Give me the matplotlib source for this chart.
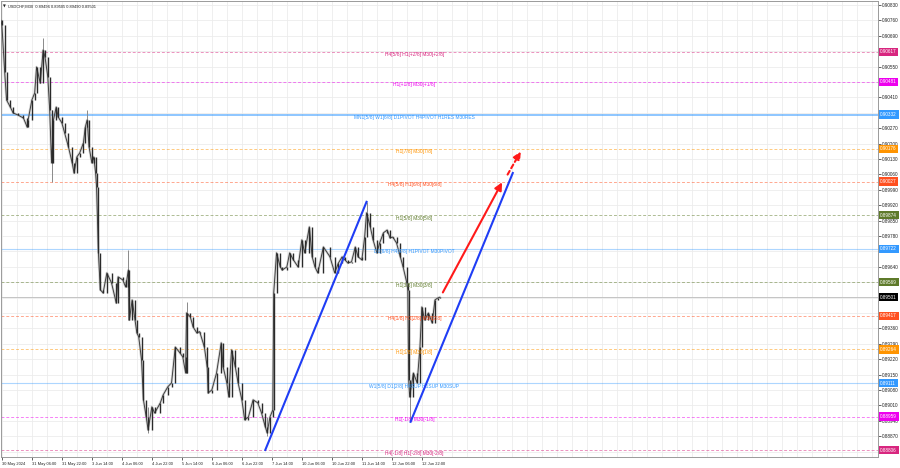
import numpy as np
import matplotlib
matplotlib.use("Agg")
import matplotlib.pyplot as plt
import matplotlib.transforms as mtransforms

# M30 bar index (0 = first bar on screen) and close price
bars = [1, 2, 5, 7, 11, 14, 19, 25, 29, 30, 34, 37, 39, 43, 46, 48, 51, 53, 55, 57,
        60, 62, 66, 69, 73, 77, 79, 82, 85, 89, 91, 93, 95, 98, 100, 102, 103, 105, 107, 110,
        114, 119, 124, 126, 131, 134, 137, 138, 141, 144, 146, 148, 151, 153, 156, 158, 162, 165, 171, 174,
        179, 183, 187, 192, 195, 198, 199, 203, 206, 210, 213, 218, 221, 222, 226, 231, 236, 238, 242, 244,
        247, 251, 254, 258, 261, 265, 270, 275, 279, 283, 285, 288, 291, 292, 295, 299, 301, 306, 309, 313,
        318, 322, 325, 330, 333, 336, 339, 345, 352, 357, 361, 365, 368, 371, 375, 379, 382, 386, 389, 391,
        395, 398, 402, 405, 409, 413, 416, 419, 423, 427, 430, 434, 435, 436, 437, 441, 445, 448, 450, 453,
        457, 461, 464, 467, 469]
closes = [0.90760, 0.90739, 0.90525, 0.90398, 0.90366, 0.90339, 0.90330, 0.90316, 0.90275, 0.90307,
          0.90398, 0.90430, 0.90548, 0.90475, 0.90625, 0.90594, 0.90503, 0.90353, 0.90112, 0.90307,
          0.90366, 0.90321, 0.90294, 0.90248, 0.90185, 0.90112, 0.90066, 0.90139, 0.90157, 0.90203,
          0.90275, 0.90307, 0.90185, 0.90112, 0.90139, 0.90066, 0.90003, 0.89703, 0.89535, 0.89521,
          0.89612, 0.89566, 0.89475, 0.89594, 0.89580, 0.89548, 0.89625, 0.89398, 0.89489, 0.89398,
          0.89339, 0.89321, 0.89216, 0.89035, 0.88957, 0.88898, 0.89003, 0.88975, 0.89021, 0.89057,
          0.89094, 0.89112, 0.89275, 0.89248, 0.89230, 0.89157, 0.89430, 0.89412, 0.89366, 0.89339,
          0.89345, 0.89275, 0.89185, 0.89066, 0.89080, 0.89157, 0.89294, 0.89185, 0.89112, 0.89048,
          0.89262, 0.89185, 0.89112, 0.89035, 0.88944, 0.88957, 0.89035, 0.89021, 0.88975, 0.88912,
          0.88885, 0.88957, 0.88989, 0.89521, 0.89703, 0.89639, 0.89625, 0.89639, 0.89703, 0.89671,
          0.89639, 0.89762, 0.89703, 0.89821, 0.89685, 0.89639, 0.89612, 0.89730, 0.89685, 0.89612,
          0.89657, 0.89685, 0.89671, 0.89657, 0.89662, 0.89730, 0.89685, 0.89671, 0.89775, 0.89885,
          0.89821, 0.89762, 0.89703, 0.89748, 0.89794, 0.89807, 0.89771, 0.89775, 0.89748, 0.89685,
          0.89639, 0.89566, 0.89535, 0.89125, 0.89048, 0.89157, 0.89112, 0.89275, 0.89457, 0.89398,
          0.89430, 0.89385, 0.89489, 0.89498, 0.89501]

# long shadows that stick out of the price path
wick_bars = [46, 55, 93, 137, 158, 199, 285, 391, 437]
wick_lows = [0.90594, 0.90025, 0.90275, 0.89398, 0.88885, 0.89157, 0.88870, 0.89821, 0.88944]
wick_highs = [0.90680, 0.90353, 0.90353, 0.89716, 0.89003, 0.89480, 0.88957, 0.89935, 0.89125]

# murrey math levels
level_prices = [0.90617, 0.90481, 0.90332, 0.90176, 0.90027, 0.89874, 0.89722,
                0.89569, 0.89417, 0.89264, 0.89111, 0.88959, 0.88806]
level_names = ["H4[5/8] H1[+2/8] M30[+2/8]",
               "H1[+1/8] M30[+1/8]",
               "MN1[5/8] W1[6/8] D1PIVOT H4PIVOT H1RES M30RES",
               "H1[7/8] M30[7/8]",
               "H4[5/8] H1[6/8] M30[6/8]",
               "H1[5/8] M30[5/8]",
               "D1[6/8] H4[4/8] H1PIVOT M30PIVOT",
               "H1[3/8] M30[3/8]",
               "H4[1/8] H1[2/8] M30[2/8]",
               "H1[1/8] M30[1/8]",
               "W1[5/8] D1[2/8] H4SUP H1SUP M30SUP",
               "H1[-1/8] M30[-1/8]",
               "H4[-1/8] H1[-2/8] M30[-2/8]"]
level_colors = ["#d8267f", "#ee00ee", "#3399ff", "#ff9400", "#ff5020", "#5e7a2a", "#3399ff",
                "#5e7a2a", "#ff5020", "#ff9400", "#3399ff", "#ee00ee", "#d8267f"]
level_solid = [False, False, True, False, False, False, True,
               False, False, False, True, False, False]
current_price = 0.89501

# drawn objects: trend lines and projection arrows (bar, price)
trend_a = ([283, 391], [0.88807, 0.89935])
trend_b = ([438, 547], [0.88935, 0.90066])
arrow_solid = ([471, 537], [0.89512, 0.90035])
arrow_dash = ([540, 557], [0.90048, 0.90175])

time_labels = ["30 May 2024", "31 May 06:00", "31 May 22:00", "3 Jun 14:00", "4 Jun 06:00",
               "4 Jun 22:00", "5 Jun 14:00", "6 Jun 06:00", "6 Jun 22:00", "7 Jun 14:00",
               "10 Jun 06:00", "10 Jun 22:00", "11 Jun 14:00", "12 Jun 06:00", "12 Jun 22:00"]
time_ticks = [2 + 32 * k for k in range(len(time_labels))]
price_ticks = np.round(np.arange(0.88800, 0.90831, 0.0007), 5)

plt.rcParams['font.family'] = ['Liberation Sans', 'DejaVu Sans']
fs = 3.5

fig = plt.figure(figsize=(9, 4.68), dpi=100)
ax = fig.add_axes([1 / 900, 11 / 468, 877 / 900, 456 / 468])
ax.set_xlim(1.07, 936.6)
ax.set_ylim(0.88775, 0.90848)

# grid
for gx in range(2, 937, 16):
    ax.axvline(gx, color="#ececec", lw=0.6, zorder=0)
for gy in price_ticks:
    ax.axhline(gy, color="#ececec", lw=0.6, zorder=0)

# levels
for p, name, col, solid in zip(level_prices, level_names, level_colors, level_solid):
    if solid:
        big = name.startswith("MN1")
        ax.axhline(p, color=col, lw=1.2 if big else 0.8, alpha=0.65 if big else 0.4, zorder=1)
    else:
        ax.axhline(p, color=col, lw=0.7, alpha=0.5, dashes=(3, 2), zorder=1)
    ax.text(442, p - 0.00003, name, color=col, fontsize=fs, ha="center", va="top", zorder=4)

ax.axhline(current_price, color="#c4c4c4", lw=0.7, zorder=1)

# candles
ax.plot(bars, closes, color="#b5b5b5", lw=1.8, alpha=0.6, zorder=2)
ax.vlines(wick_bars, wick_lows, wick_highs, color="#8a8a8a", lw=0.7, zorder=2)
ax.plot(bars, closes, color="#3a3a3a", lw=0.65, zorder=3)
ax.vlines(bars[1:], np.minimum(closes[:-1], closes[1:]), np.maximum(closes[:-1], closes[1:]),
          color="#2a2a2a", lw=1.0, zorder=3)

# trend lines
ax.plot(*trend_a, color="#1f3df5", lw=1.5, zorder=5)
ax.plot(*trend_b, color="#1f3df5", lw=1.5, zorder=5)
ax.annotate("", xy=(arrow_solid[0][1], arrow_solid[1][1]), xytext=(arrow_solid[0][0], arrow_solid[1][0]),
            arrowprops=dict(arrowstyle="-|>,head_length=0.45,head_width=0.22", color="#ff1a1a", lw=1.5),
            zorder=5)
ax.annotate("", xy=(arrow_dash[0][1], arrow_dash[1][1]), xytext=(arrow_dash[0][0], arrow_dash[1][0]),
            arrowprops=dict(arrowstyle="-|>,head_length=0.45,head_width=0.22", color="#ff1a1a", lw=1.5,
                            linestyle=(0, (2, 1.5))),
            zorder=5)

# axes cosmetics
for s in ["left", "top", "bottom", "right"]:
    ax.spines[s].set_color("#9a9a9a")
    ax.spines[s].set_linewidth(0.7)
ax.yaxis.tick_right()
ax.set_yticks(price_ticks)
# scale values that sit under a price tag are covered by the tag
tags = level_prices + [current_price]
shown = [f"{v:.5f}" if min(abs(v - p) for p in tags) > 0.000135 else "" for v in price_ticks]
ax.set_yticklabels(shown)
ax.tick_params(axis="y", labelsize=3.3, length=2, width=0.5, pad=1, colors="#222222")
ax.set_xticks(time_ticks)
ax.set_xticklabels(time_labels)
ax.tick_params(axis="x", labelsize=2.9, length=2, width=0.5, pad=1.5, colors="#222222")
for lab in ax.get_xticklabels():
    lab.set_horizontalalignment("left")

# price tags on the right scale
trans = mtransforms.blended_transform_factory(ax.transAxes, ax.transData)
for p, col in zip(level_prices, level_colors):
    ax.text(1.0025, p, f"{p:.5f}", transform=trans, fontsize=3.3, color="white", ha="left",
            va="center", clip_on=False, zorder=6,
            bbox=dict(boxstyle="square,pad=0.35", fc=col, ec="none"))
ax.text(1.0025, current_price, f"{current_price:.5f}", transform=trans, fontsize=3.3, color="white",
        ha="left", va="center", clip_on=False, zorder=6,
        bbox=dict(boxstyle="square,pad=0.35", fc="black", ec="none"))

# symbol header
ax.text(0.002, 0.993, "\u25bc", transform=ax.transAxes, fontsize=2.6, ha="left", va="top",
        family="DejaVu Sans", color="#222222")
ax.text(0.008, 0.993, "USDCHF,M30  0.89496 0.89505 0.89490 0.89501", transform=ax.transAxes,
        fontsize=2.9, ha="left", va="top", color="#222222")

fig.savefig("out.png", dpi=100)
